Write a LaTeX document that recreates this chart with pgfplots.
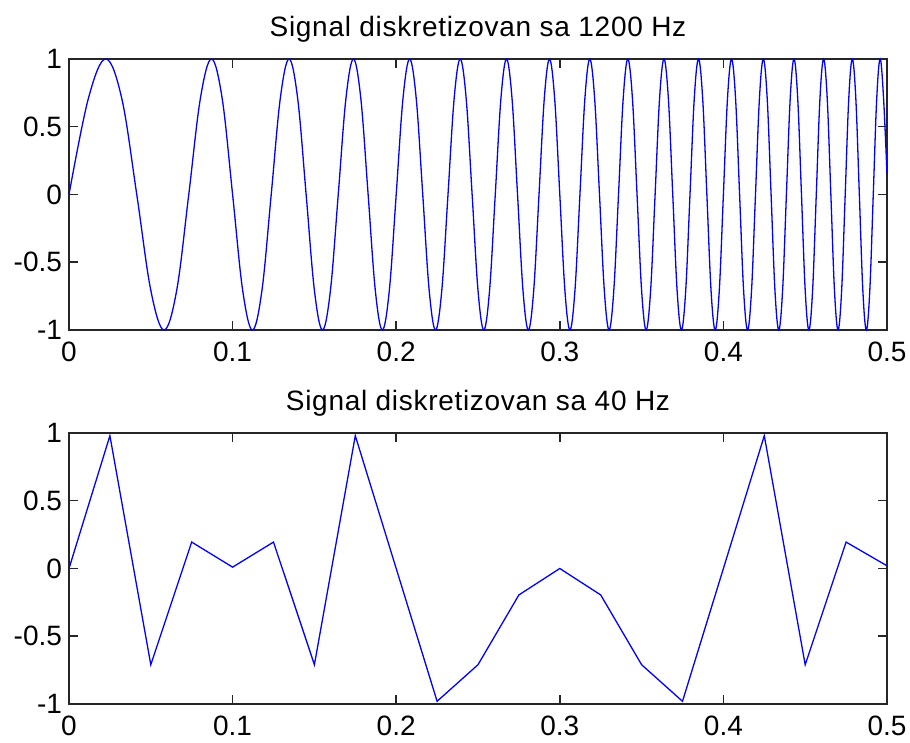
\documentclass[border=0pt]{standalone}
\usepackage{fontspec}
\setmainfont{Liberation Sans}
\usepackage{pgfplots}
\usepackage{pgfplotstable}
\pgfplotsset{compat=1.18}

% 1200 Hz signal: points at every 1/8 cycle (peaks, zeros, +-0.707)
\pgfplotstableread{
t y
0 0
0.011803 0.7071
0.022474 1
0.032288 0.7071
0.041421 0
0.05 -0.7071
0.058114 -1
0.065831 -0.7071
0.073205 0
0.080278 0.7071
0.087083 1
0.093649 0.7071
0.1 0
0.106155 -0.7071
0.112132 -1
0.117945 -0.7071
0.123607 0
0.129129 0.7071
0.134521 1
0.139792 0.7071
0.144949 0
0.15 -0.7071
0.154951 -1
0.159808 -0.7071
0.164575 0
0.169258 0.7071
0.173861 1
0.178388 0.7071
0.182843 0
0.187228 -0.7071
0.191548 -1
0.195804 -0.7071
0.2 0
0.204138 0.7071
0.208221 1
0.21225 0.7071
0.216228 0
0.220156 -0.7071
0.224037 -1
0.227872 -0.7071
0.231662 0
0.23541 0.7071
0.239116 1
0.242782 0.7071
0.24641 0
0.25 -0.7071
0.253553 -1
0.257071 -0.7071
0.260555 0
0.264005 0.7071
0.267423 1
0.27081 0.7071
0.274166 0
0.277491 -0.7071
0.280789 -1
0.284057 -0.7071
0.287298 0
0.290512 0.7071
0.2937 1
0.296863 0.7071
0.3 0
0.303113 -0.7071
0.306202 -1
0.309268 -0.7071
0.31231 0
0.315331 0.7071
0.31833 1
0.321307 0.7071
0.324264 0
0.3272 -0.7071
0.330116 -1
0.333013 -0.7071
0.33589 0
0.338748 0.7071
0.341588 1
0.34441 0.7071
0.347214 0
0.35 -0.7071
0.352769 -1
0.355522 -0.7071
0.358258 0
0.360977 0.7071
0.363681 1
0.366369 0.7071
0.369042 0
0.371699 -0.7071
0.374342 -1
0.376969 -0.7071
0.379583 0
0.382183 0.7071
0.384768 1
0.38734 0.7071
0.389898 0
0.392443 -0.7071
0.394975 -1
0.397494 -0.7071
0.4 0
0.402494 0.7071
0.404975 1
0.407444 0.7071
0.409902 0
0.412348 -0.7071
0.414782 -1
0.417204 -0.7071
0.419615 0
0.422015 0.7071
0.424405 1
0.426783 0.7071
0.42915 0
0.431508 -0.7071
0.433854 -1
0.43619 -0.7071
0.438517 0
0.440833 0.7071
0.443139 1
0.445436 0.7071
0.447723 0
0.45 -0.7071
0.452268 -1
0.454527 -0.7071
0.456776 0
0.459017 0.7071
0.461249 1
0.463471 0.7071
0.465685 0
0.467891 -0.7071
0.470088 -1
0.472276 -0.7071
0.474456 0
0.476628 0.7071
0.478792 1
0.480948 0.7071
0.483095 0
0.485235 -0.7071
0.487367 -1
0.489491 -0.7071
0.491608 0
0.493717 0.7071
0.495819 1
0.497913 0.7071
0.5 0.15
}\sighi

% 40 Hz samples
\pgfplotstableread{
t y
0 0
0.025 0.98
0.05 -0.71
0.075 0.195
0.1 0.01
0.125 0.195
0.15 -0.71
0.175 0.98
0.2 0
0.225 -0.98
0.25 -0.71
0.275 -0.195
0.3 0
0.325 -0.195
0.35 -0.71
0.375 -0.98
0.4 0
0.425 0.98
0.45 -0.71
0.475 0.195
0.5 0.02
}\siglo

\pgfplotsset{
  sig/.style={
    scale only axis, width=409bp, height=135.5bp, anchor=south west,
    xmin=0, xmax=0.5, ymin=-1, ymax=1,
    xtick={0,0.1,0.2,0.3,0.4,0.5}, xticklabels={0,0.1,0.2,0.3,0.4,0.5},
    ytick={-1,-0.5,0,0.5,1}, yticklabels={-1,-0.5,0,0.5,1},
    tick align=inside, major tick length=4.5bp,
    xtick pos=both, ytick pos=both,
    axis line style={black!85, line width=0.75bp},
    tick style={black!85, line width=0.75bp},
    tick label style={font=\fontsize{14bp}{16bp}\selectfont},
    xticklabel style={yshift=-2.5bp},
    title style={at={(0.5,1)}, anchor=base, yshift=5.5bp,
      font=\fontsize{14bp}{16bp}\selectfont\addfontfeatures{LetterSpace=2.5}},
    clip=false,
  },
  sigline/.style={blue, line width=0.65bp},
}

\begin{document}
\begin{tikzpicture}
\useasboundingbox (0,0) rectangle (455bp,371.5bp);

\begin{axis}[sig, at={(34.5bp,206.5bp)}, title={Signal diskretizovan sa 1200 Hz}]
  \addplot[sigline, smooth, tension=0.6] table[x=t,y=y] {\sighi};
\end{axis}

\begin{axis}[sig, at={(34.5bp,19.5bp)}, title={Signal diskretizovan sa 40 Hz}]
  \addplot[sigline] table[x=t,y=y] {\siglo};
\end{axis}
\end{tikzpicture}
\end{document}
